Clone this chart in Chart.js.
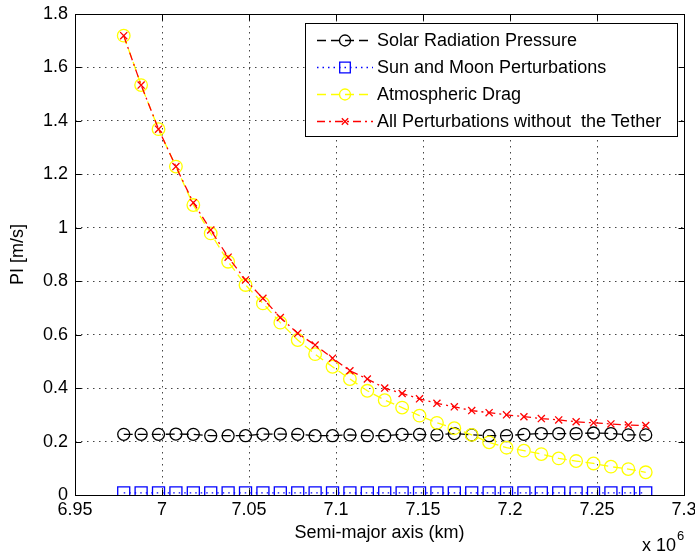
<!DOCTYPE html>
<html><head><meta charset="utf-8">
<script src="https://cdn.jsdelivr.net/npm/chart.js@4/dist/chart.umd.min.js"></script>
<style>html,body{margin:0;padding:0;background:#fff;}canvas{display:block;}</style>
</head><body>
<canvas id="c" width="695" height="554"></canvas>
<script>
// ---------- data ----------
const semiMajorAxis = [6978000, 6988000, 6998000, 7008000, 7018000, 7028000, 7038000, 7048000, 7058000, 7068000,
  7078000, 7088000, 7098000, 7108000, 7118000, 7128000, 7138000, 7148000, 7158000, 7168000,
  7178000, 7188000, 7198000, 7208000, 7218000, 7228000, 7238000, 7248000, 7258000, 7268000, 7278000];
const solarRadiationPressure = [0.227, 0.227, 0.227, 0.228, 0.227, 0.222, 0.222, 0.222, 0.228, 0.228,
  0.227, 0.222, 0.222, 0.225, 0.222, 0.222, 0.227, 0.227, 0.225, 0.230,
  0.225, 0.222, 0.222, 0.227, 0.230, 0.230, 0.230, 0.232, 0.230, 0.225, 0.225];
const sunMoonPerturbations = [0.008, 0.008, 0.008, 0.008, 0.008, 0.008, 0.008, 0.008, 0.008, 0.008,
  0.008, 0.008, 0.008, 0.008, 0.008, 0.008, 0.008, 0.008, 0.008, 0.008,
  0.008, 0.008, 0.008, 0.008, 0.008, 0.008, 0.008, 0.008, 0.008, 0.008, 0.008];
const atmosphericDrag = [1.719, 1.534, 1.369, 1.229, 1.085, 0.979, 0.873, 0.786, 0.717, 0.645,
  0.580, 0.527, 0.480, 0.434, 0.390, 0.355, 0.327, 0.297, 0.270, 0.250,
  0.225, 0.197, 0.177, 0.166, 0.153, 0.137, 0.127, 0.118, 0.106, 0.097, 0.085];
const allPerturbations = [1.719, 1.534, 1.369, 1.229, 1.094, 0.992, 0.890, 0.805, 0.736, 0.664,
  0.605, 0.561, 0.512, 0.465, 0.434, 0.400, 0.380, 0.360, 0.343, 0.330,
  0.316, 0.308, 0.300, 0.293, 0.286, 0.281, 0.274, 0.270, 0.266, 0.262, 0.260];
const seriesNames = ['Solar Radiation Pressure', 'Sun and Moon Perturbations', 'Atmospheric Drag', 'All Perturbations without  the Tether'];
const xTicks = [6950000, 7000000, 7050000, 7100000, 7150000, 7200000, 7250000, 7300000];
const yTicks = [0, 0.2, 0.4, 0.6, 0.8, 1, 1.2, 1.4, 1.6, 1.8];
const xTitle = 'Semi-major axis (km)';
const yTitle = 'PI [m/s]';
const xExponent = '6';

// ---------- styles ----------
const FONT = "'Liberation Sans', Arial, sans-serif";
const FS = 18;

function mk(values) { return semiMajorAxis.map((x, i) => ({ x: x, y: values[i] })); }

const datasets = [
  { label: seriesNames[0], data: mk(solarRadiationPressure), borderColor: '#000000', borderDash: [9, 5],
    pointStyle: 'circle', pointRadius: 6, order: 3 },
  { label: seriesNames[1], data: mk(sunMoonPerturbations), borderColor: '#0000ff', borderDash: [1.5, 4],
    pointStyle: 'rect', pointRadius: 8.5, order: 2 },
  { label: seriesNames[2], data: mk(atmosphericDrag), borderColor: '#ffff00', borderDash: [9, 5],
    pointStyle: 'circle', pointRadius: 6.3, order: 1 },
  { label: seriesNames[3], data: mk(allPerturbations), borderColor: '#ff0000', borderDash: [8, 4, 2, 4],
    pointStyle: 'crossRot', pointRadius: 5, order: 0 }
].map(d => Object.assign({
  borderWidth: 1.3, pointBorderWidth: 1.3, pointBackgroundColor: 'rgba(0,0,0,0)',
  pointBorderColor: d.borderColor, tension: 0, fill: false, pointHoverRadius: d.pointRadius
}, d));

const matlabFrame = {
  id: 'matlabFrame',
  afterDraw(chart) {
    const { ctx, chartArea: a, scales } = chart;
    const xs = scales.x, ys = scales.y;
    const L = Math.round(a.left) + 0.5, R = Math.round(a.right) + 0.5;
    const T = Math.round(a.top) + 0.5, B = Math.round(a.bottom) + 0.5;
    ctx.save();
    ctx.setLineDash([]);
    ctx.strokeStyle = '#000';
    ctx.lineWidth = 1;
    ctx.strokeRect(L, T, R - L, B - T);
    const tl = 6;
    ctx.beginPath();
    xTicks.forEach(v => {
      const px = Math.round(xs.getPixelForValue(v)) + 0.5;
      if (px <= L + 1 || px >= R - 1) return;
      ctx.moveTo(px, B); ctx.lineTo(px, B - tl);
      ctx.moveTo(px, T); ctx.lineTo(px, T + tl);
    });
    yTicks.forEach(v => {
      const py = Math.round(ys.getPixelForValue(v)) + 0.5;
      if (py <= T + 1 || py >= B - 1) return;
      ctx.moveTo(L, py); ctx.lineTo(L + tl, py);
      ctx.moveTo(R, py); ctx.lineTo(R - tl, py);
    });
    ctx.stroke();

    // legend
    const lx = 305.5, ly = 23.5, lw = 372, lh = 113;
    ctx.fillStyle = '#fff';
    ctx.fillRect(lx, ly, lw, lh);
    ctx.strokeStyle = '#000';
    ctx.strokeRect(lx, ly, lw, lh);
    ctx.font = FS + 'px ' + FONT;
    ctx.textBaseline = 'middle';
    ctx.textAlign = 'left';
    chart.data.datasets.forEach((d, i) => {
      const cy = 40 + i * 27;
      ctx.save();
      ctx.strokeStyle = d.borderColor;
      ctx.lineWidth = d.borderWidth;
      ctx.setLineDash(d.borderDash);
      ctx.beginPath();
      ctx.moveTo(317, cy + 0.5); ctx.lineTo(373, cy + 0.5);
      ctx.stroke();
      ctx.setLineDash([]);
      ctx.fillStyle = 'rgba(0,0,0,0)';
      Chart.helpers.drawPoint(ctx, {
        pointStyle: d.pointStyle, radius: d.pointStyle === 'rect' ? 7.5 : (d.pointStyle === 'crossRot' ? 4.5 : 5.5),
        rotation: 0, borderWidth: d.pointBorderWidth
      }, 345, cy + 0.5);
      ctx.restore();
      ctx.fillStyle = '#000';
      ctx.fillText(d.label, 377, cy + 1);
    });

    // exponent label
    ctx.fillStyle = '#000';
    ctx.font = FS + 'px ' + FONT;
    ctx.textBaseline = 'alphabetic';
    ctx.fillText('x 10', 642, 551);
    ctx.font = '13px ' + FONT;
    ctx.fillText(xExponent, 677, 540);
    ctx.restore();
  }
};

new Chart(document.getElementById('c'), {
  type: 'line',
  data: { datasets: datasets },
  options: {
    responsive: false,
    animation: false,
    devicePixelRatio: 1,
    layout: { padding: { top: 14, right: 11, left: 0, bottom: 0 } },
    plugins: { legend: { display: false }, tooltip: { enabled: false } },
    scales: {
      x: {
        type: 'linear', min: 6950000, max: 7300000,
        afterBuildTicks: s => { s.ticks = xTicks.map(v => ({ value: v })); },
        afterFit: s => { s.height = 59; s.paddingLeft = 0; s.paddingRight = 0; },
        ticks: {
          color: '#000', font: { family: FONT, size: FS }, padding: 4, maxRotation: 0, autoSkip: false,
          callback: v => String(Math.round(v / 10000) / 100)
        },
        grid: { color: '#444', lineWidth: 1, drawTicks: false, tickLength: 0 },
        border: { display: false, dash: [1.5, 4.5] },
        title: { display: true, text: xTitle, color: '#000', font: { family: FONT, size: FS }, padding: { top: 0, bottom: 10 } }
      },
      y: {
        type: 'linear', min: 0, max: 1.8,
        afterBuildTicks: s => { s.ticks = yTicks.map(v => ({ value: v })); },
        afterFit: s => { s.width = 75; s.paddingTop = 0; s.paddingBottom = 0; },
        ticks: {
          color: '#000', font: { family: FONT, size: FS }, padding: 7, autoSkip: false,
          callback: v => String(Math.round(v * 10) / 10)
        },
        grid: { color: '#444', lineWidth: 1, drawTicks: false, tickLength: 0 },
        border: { display: false, dash: [1.5, 4.5] },
        title: { display: true, text: yTitle, color: '#000', font: { family: FONT, size: FS }, padding: { top: 7, bottom: 0 } }
      }
    }
  },
  plugins: [matlabFrame]
});
</script>
</body></html>
